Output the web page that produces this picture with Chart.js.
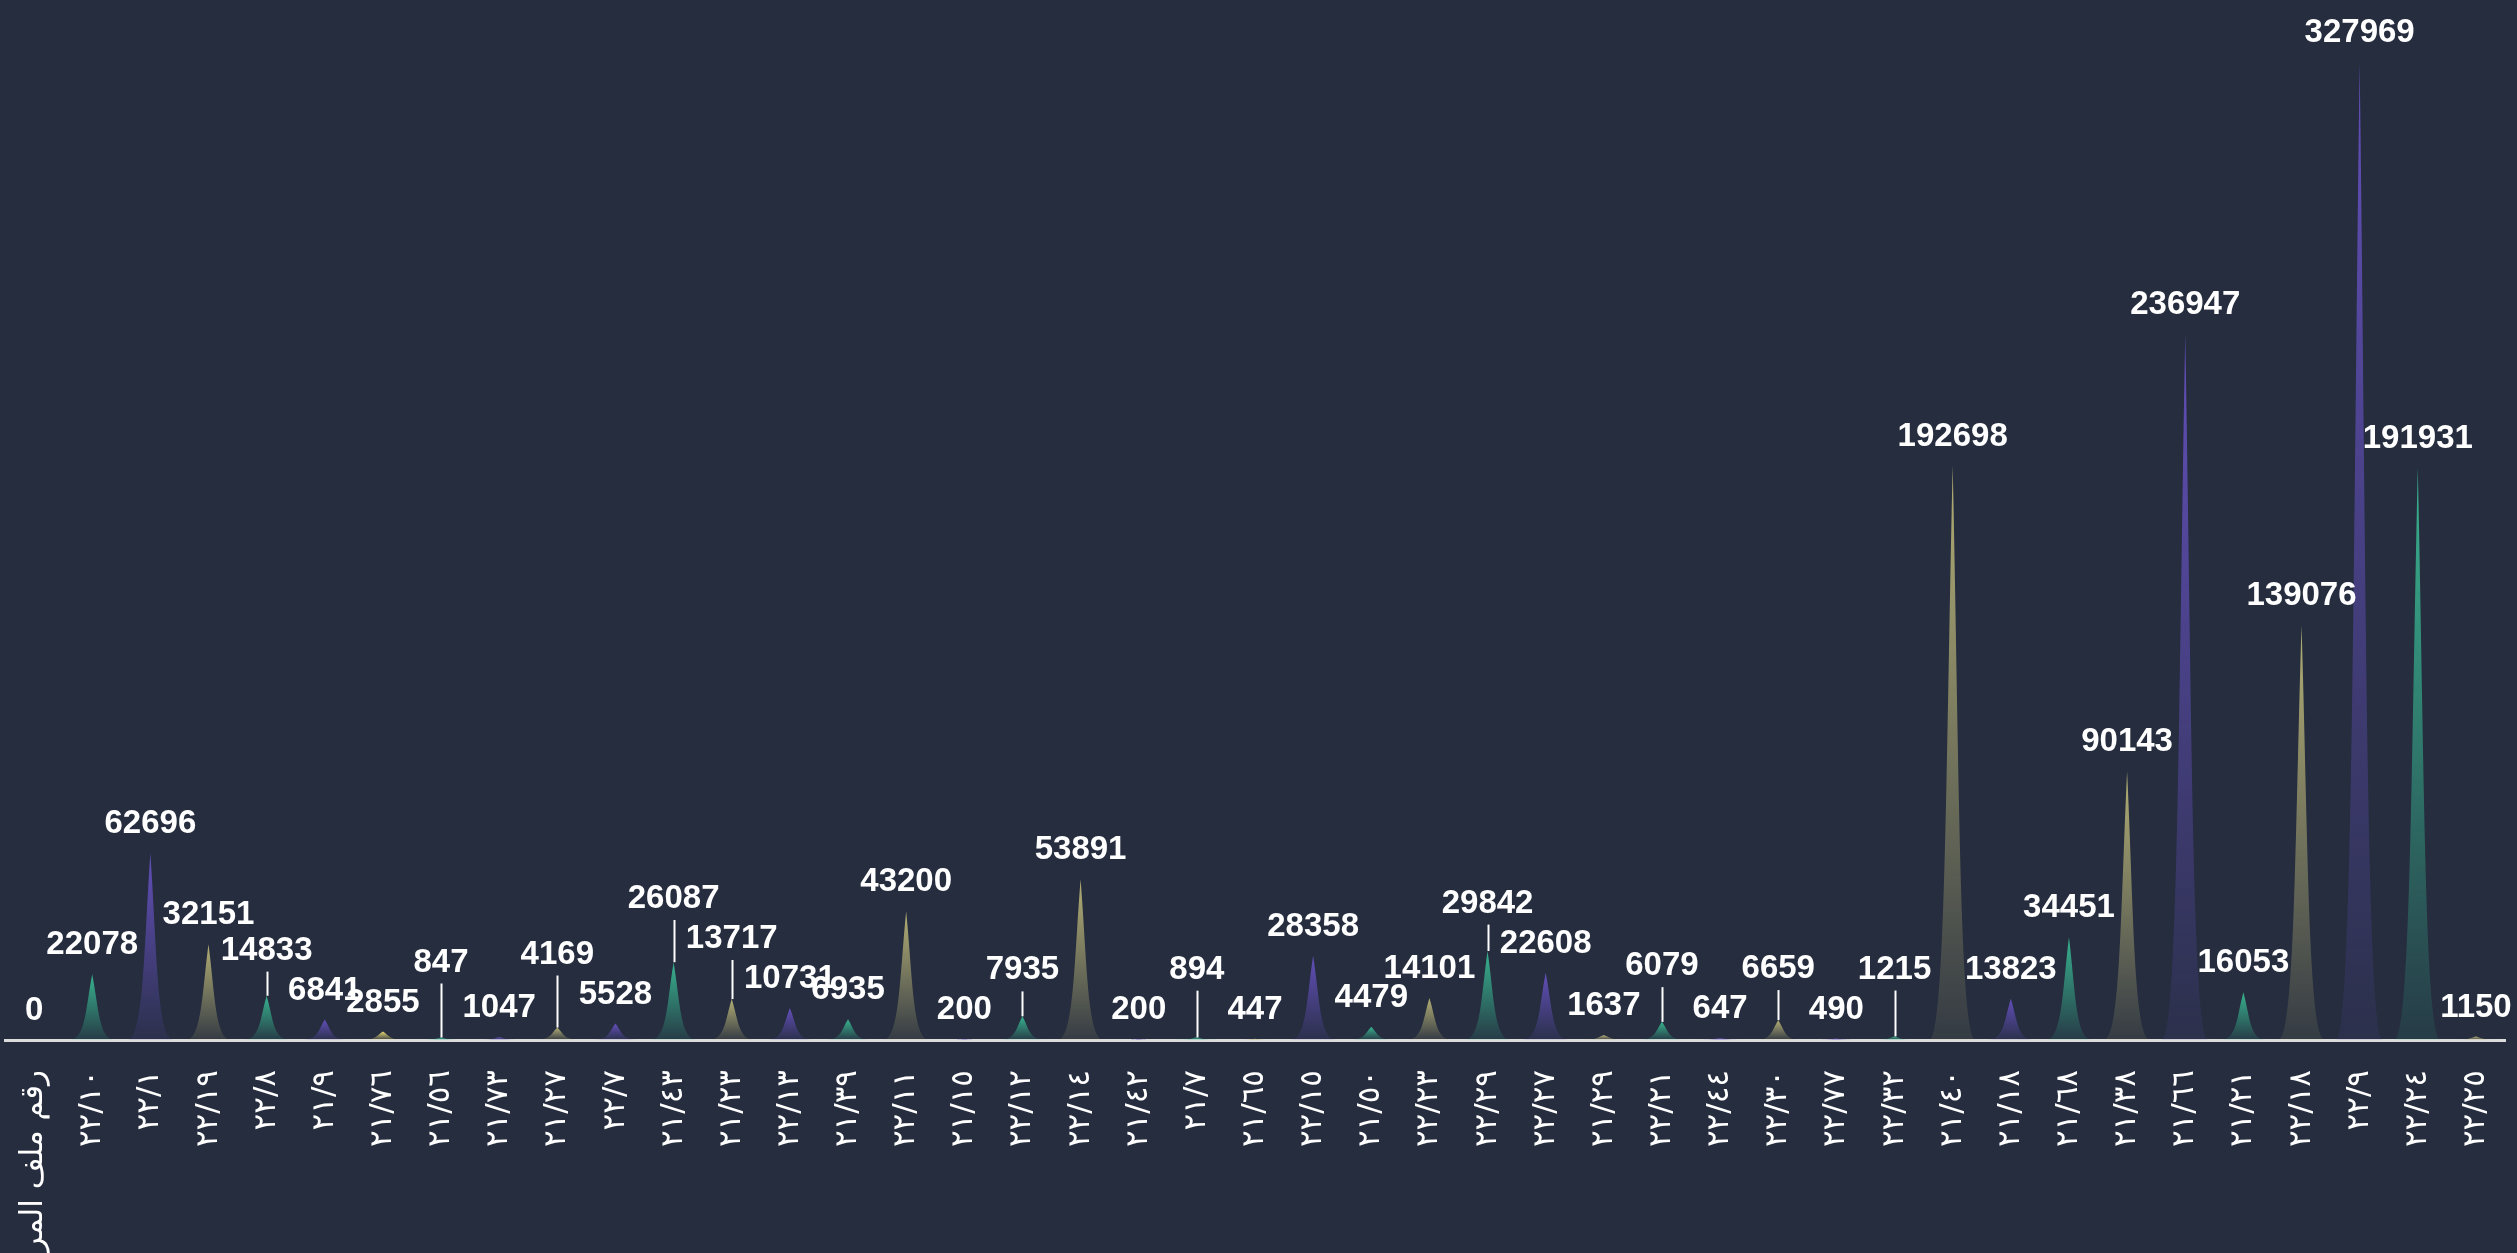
<!DOCTYPE html>
<html>
<head>
<meta charset="utf-8">
<title>رقم ملف المريض</title>
<script src="https://cdn.jsdelivr.net/npm/chart.js@4.4.1/dist/chart.umd.min.js"></script>
<style>
  html, body { margin: 0; padding: 0; background: #252d3e; overflow: hidden; }
  #wrap { position: relative; width: 2517px; height: 1253px; }
</style>
</head>
<body>
<div id="wrap"><canvas id="spikeChart"></canvas></div>
<script>
// file numbers (first entry is the header row that came through as a category)
const fileNumbers = [
  "رقم ملف المريض",
  "٢٢/١٠", "٢٢/١", "٢٢/١٩", "٢٢/٨", "٢١/٩", "٢١/٧٦", "٢١/٥٦", "٢١/٧٣", "٢١/٢٧", "٢٢/٧",
  "٢١/٤٣", "٢١/٢٣", "٢٢/١٣", "٢١/٣٩", "٢٢/١١", "٢١/١٥", "٢٢/١٢", "٢٢/١٤", "٢١/٤٢", "٢١/٧",
  "٢١/٦٥", "٢٢/١٥", "٢١/٥٠", "٢٢/٢٣", "٢٢/٢٩", "٢٢/٢٧", "٢١/٢٩", "٢٢/٢١", "٢٢/٤٤", "٢٢/٣٠",
  "٢٢/٧٧", "٢٢/٣٢", "٢١/٤٠", "٢١/١٨", "٢١/٦٨", "٢١/٣٨", "٢١/٦٦", "٢١/٢١", "٢٢/١٨", "٢٢/٩",
  "٢٢/٢٤", "٢٢/٢٥"
];

const amounts = [
  0,
  22078, 62696, 32151, 14833, 6841, 2855, 847, 1047, 4169, 5528,
  26087, 13717, 10731, 6935, 43200, 200, 7935, 53891, 200, 894,
  447, 28358, 4479, 14101, 29842, 22608, 1637, 6079, 647, 6659,
  490, 1215, 192698, 13823, 34451, 90143, 236947, 16053, 139076, 327969,
  191931, 1150
];

// colour key per spike: g = teal, p = purple, k = khaki, y = yellow
const spikeKeys = [
  "g",
  "g", "p", "k", "g", "p", "y", "g", "p", "k", "p",
  "g", "k", "p", "g", "k", "p", "g", "k", "p", "g",
  "k", "p", "g", "k", "g", "p", "k", "g", "p", "k",
  "p", "g", "k", "p", "g", "k", "p", "g", "k", "p",
  "g", "k"
];

const palette = {
  g: [58, 190, 150],
  p: [104, 82, 196],
  k: [192, 186, 122],
  y: [246, 230, 120]
};

function rgba(c, a) {
  return "rgba(" + c[0] + "," + c[1] + "," + c[2] + "," + a + ")";
}

// draws each bar as a concave spike, then the value labels on top
const spikePlugin = {
  id: "spikes",
  afterDatasetsDraw(chart) {
    const ctx = chart.ctx;
    const meta = chart.getDatasetMeta(0);

    ctx.save();
    meta.data.forEach((bar, i) => {
      const p = bar.getProps(["x", "y", "base", "width"], true);
      const h = p.base - p.y;
      if (h < 0.5) return;
      const w = p.width, cx = p.x, k = 0.14 * w;
      const col = palette[spikeKeys[i]];
      const grad = ctx.createLinearGradient(0, p.y, 0, p.base);
      grad.addColorStop(0, rgba(col, 0.92));
      grad.addColorStop(1, rgba(col, 0.1));
      ctx.beginPath();
      ctx.moveTo(cx - w / 2, p.base);
      ctx.lineTo(cx + w / 2, p.base);
      ctx.bezierCurveTo(cx + k, p.base, cx + k, p.base - h / 2, cx, p.y);
      ctx.bezierCurveTo(cx - k, p.base - h / 2, cx - k, p.base, cx - w / 2, p.base);
      ctx.closePath();
      ctx.fillStyle = grad;
      ctx.fill();
    });

    // value labels, lifted a level when they collide with a neighbour
    ctx.font = 'bold 33px "Liberation Sans", Arial, sans-serif';
    const boxes = meta.data.map((bar, i) => {
      const text = String(amounts[i]);
      return {
        text: text,
        x: bar.x,
        top: bar.y,
        y: bar.y - 29,
        w: ctx.measureText(text).width + 6,
        lifted: false,
        fixed: false
      };
    });
    const H = 24, LIFT = 40;
    const hits = (a, b) => Math.abs(a.x - b.x) < (a.w + b.w) / 2 && Math.abs(a.y - b.y) < H;
    for (let i = 1; i < boxes.length; i++) {
      const a = boxes[i - 1], b = boxes[i];
      if (a.lifted || b.lifted || a.fixed) continue;
      if (!hits(a, b)) continue;
      const dy = Math.abs(a.y - b.y);
      const up = dy >= 7 ? (a.y < b.y ? a : b) : b;
      const down = up === a ? b : a;
      let floor = down.y;
      const other = up === b ? boxes[i + 1] : boxes[i - 2];
      if (other && hits(up, other)) floor = Math.min(floor, other.y);
      up.y = floor - LIFT;
      up.lifted = true;
      down.fixed = true;
      for (let j = boxes.indexOf(up) - 1; j >= 0; j--) {
        if (hits(boxes[j], boxes[j + 1])) {
          boxes[j].y = boxes[j + 1].y - LIFT;
          boxes[j].lifted = true;
        } else break;
      }
    }

    ctx.strokeStyle = "#ffffff";
    ctx.lineWidth = 2;
    ctx.fillStyle = "#ffffff";
    ctx.textAlign = "center";
    ctx.textBaseline = "middle";
    boxes.forEach(b => {
      if (b.lifted && b.top - (b.y + 21) > 2) {
        ctx.beginPath();
        ctx.moveTo(Math.round(b.x) + 0.5, b.y + 21);
        ctx.lineTo(Math.round(b.x) + 0.5, b.top);
        ctx.stroke();
      }
      ctx.fillText(b.text, b.x, b.y);
    });
    ctx.restore();
  }
};

const ctx = document.getElementById("spikeChart").getContext("2d");
const chart = new Chart(ctx, {
  type: "bar",
  data: {
    labels: fileNumbers,
    datasets: [{
      label: "عدد",
      data: amounts,
      backgroundColor: "rgba(0,0,0,0)",
      borderWidth: 0,
      barPercentage: 0.8,
      categoryPercentage: 1.0
    }]
  },
  options: {
    responsive: true,
    maintainAspectRatio: false,
    animation: false,
    layout: { padding: { top: 56, left: 5, right: 12, bottom: 0 } },
    plugins: {
      legend: { display: false },
      tooltip: { enabled: false }
    },
    scales: {
      x: {
        grid: { display: false, drawTicks: false },
        border: { display: true, color: "#dcdcdc", width: 3 },
        ticks: {
          color: "#ffffff",
          autoSkip: false,
          maxRotation: 90,
          minRotation: 90,
          padding: 30,
          font: { family: "'DejaVu Sans', sans-serif", size: 31 }
        },
        afterFit(scale) {
          scale.height = 213;
          scale.paddingLeft = 0;
          scale.paddingRight = 0;
        }
      },
      y: {
        display: false,
        min: 0,
        max: 330000
      }
    }
  },
  plugins: [spikePlugin]
});
</script>
</body>
</html>
